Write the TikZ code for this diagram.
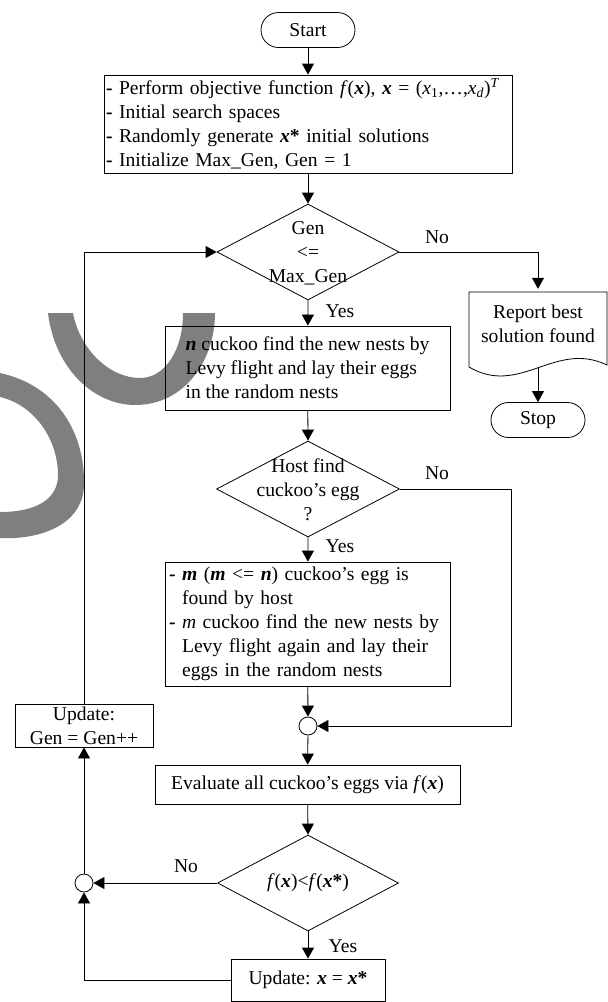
\documentclass[tikz,border=0pt]{standalone}
\usepackage{fontspec}
\setmainfont{Liberation Serif}
\usepackage{tikz}
\usetikzlibrary{arrows.meta,shapes.geometric}
\newcommand{\bx}{\textbf{\textit{x}}}
\newcommand{\fx}{\textit{f}(\bx)}
\newcommand{\dash}{\textbf{-} }

\begin{document}
\begin{tikzpicture}[x=1pt,y=-1pt,>={Triangle[length=11pt,width=12pt]},
  font=\fontsize{19.6}{24}\selectfont,
  term/.style={draw,line width=0.8pt,rounded corners=17.5pt,minimum width=94pt,minimum height=35pt,inner sep=0pt},
  proc/.style={draw,line width=0.8pt,inner sep=0pt},
  decision/.style={draw,line width=0.8pt,diamond,inner sep=0pt},
  joint/.style={draw,line width=0.8pt,circle,minimum size=18pt,inner sep=0pt},
  tag/.style={inner sep=1pt},
  flow/.style={->,line width=0.8pt}]
\useasboundingbox (0,0) rectangle (608,1002);
% main column
\node[term] (start) at (308,30) {Start};
\node[proc,minimum width=408pt,minimum height=98pt,text width=404pt,inner xsep=2pt,align=left] (init) at (308,124)
  {\dash Perform objective function \fx, \bx{} = (\textit{x}\textsubscript{1},\ldots,\textit{x}\textsubscript{\textit{d}})\textsuperscript{\textit{T}}\\
   \dash Initial search spaces\\
   \dash Randomly generate \bx\textbf{*} initial solutions\\
   \dash Initialize Max\_Gen, Gen = 1};
\node[decision,minimum width=182pt,minimum height=96pt] (gen) at (308,252) {};
\node[align=center] (gentxt) at (308,253) {Gen\\<=\\Max\_Gen};
\node[proc,minimum width=285pt,minimum height=84pt,align=left] (nest) at (307.5,368)
  {\textbf{\textit{n}} cuckoo find the new nests by\\Levy flight and lay their eggs\\in the random nests};
\node[decision,minimum width=183pt,minimum height=96pt] (host) at (308,489) {};
\node[align=center] (hosttxt) at (308,490) {Host find\\cuckoo's egg\\?};
\node[proc,minimum width=285pt,minimum height=124pt,text width=277pt,inner xsep=4pt,align=left] (drop) at (307.5,624)
  {\dash \textbf{\textit{m}} (\textbf{\textit{m}} <= \textbf{\textit{n}}) cuckoo's egg is\\
   \phantom{\dash}found by host\\
   \dash \textit{m} cuckoo find the new nests by\\
   \phantom{\dash}Levy flight again and lay their\\
   \phantom{\dash}eggs in the random nests};
\node[joint] (merge1) at (308,726) {};
\node[proc,minimum width=305pt,minimum height=39pt] (eval) at (307.5,784.5) {Evaluate all cuckoo's eggs via \fx};
\node[decision,minimum width=181pt,minimum height=96pt] (better) at (308,883) {};
\node (bettertxt) at (308,883) {\fx<\textit{f}(\bx\textbf{*})};
\node[proc,minimum width=154pt,minimum height=42pt] (updx) at (308,980) {Update: \bx{} = \bx\textbf{*}};
% left loop
\node[proc,minimum width=138pt,minimum height=43pt,align=center] (updgen) at (84,725.5) {Update:\\Gen = Gen++};
\node[joint] (merge2) at (84,883) {};
% right branch
\node[minimum width=138pt,minimum height=70pt,align=center,inner sep=0pt] (report) at (538,324) {Report best\\solution found};
\draw[line width=0.8pt] (469,367) -- (469,292) -- (607,292) -- (607,365)
  .. controls (555,340) and (520,397) .. (469,367);
\coordinate (repbot) at (538,368);
\node[term] (stop) at (538,420) {Stop};
\coordinate (noright) at (511,489);
% labels
\node[tag] (no1) at (437,237) {No};
\node[tag] (yes1) at (340,311) {Yes};
\node[tag] (no2) at (437,473) {No};
\node[tag] (yes2) at (340,546) {Yes};
\node[tag] (no3) at (186,866) {No};
\node[tag] (yes3) at (343,946) {Yes};
% connectors
\draw[flow] (start) -- (init);
\draw[flow] (init) -- (gen.north);
\draw[flow] (gen.east) -| (report.north);
\draw[flow] (repbot) -- (stop);
\draw[flow] (gen.south) -- (nest);
\draw[flow] (nest) -- (host.north);
\draw[flow] (host.south) -- (drop);
\draw[flow] (host.east) -- (noright) |- (merge1.east);
\draw[flow] (drop) -- (merge1);
\draw[flow] (merge1) -- (eval);
\draw[flow] (eval) -- (better.north);
\draw[flow] (better.west) -- (merge2);
\draw[flow] (better.south) -- (updx);
\draw[flow] (updx.west) -| (merge2.south);
\draw[flow] (merge2) -- (updgen);
\draw[flow] (updgen.north) |- (gen.west);
% grey marks
\fill[black,opacity=0.5] (48,313) .. controls (55,370) and (95,405) .. (135,405)
  .. controls (185,405) and (215,360) .. (215,313) -- (183,313)
  .. controls (183,350) and (165,378) .. (140,378)
  .. controls (110,378) and (80,350) .. (73,313) -- cycle;
\fill[black,opacity=0.5] (0,373) .. controls (55,385) and (85,430) .. (84,485)
  .. controls (83,525) and (40,540) .. (0,538) -- (0,512)
  .. controls (35,512) and (58,500) .. (58,475)
  .. controls (58,440) and (35,405) .. (0,397) -- cycle;
\end{tikzpicture}
\end{document}
